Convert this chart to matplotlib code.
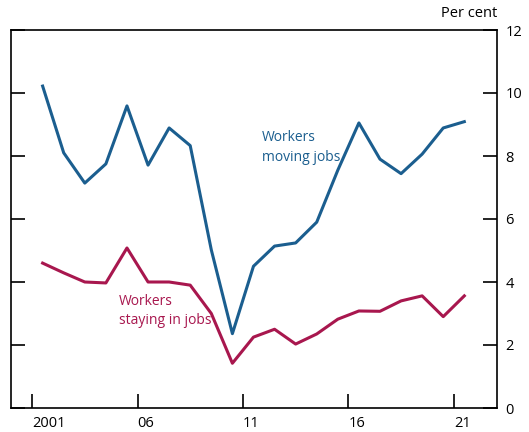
import matplotlib.pyplot as plt

# Data (annual, plotted at mid-year)
years = [2001.5 + i for i in range(21)]
moving = [10.22, 8.1, 7.14, 7.75, 9.59, 7.71, 8.89, 8.33, 5.02, 2.36, 4.5,
          5.14, 5.24, 5.9, 7.55, 9.05, 7.9, 7.44, 8.06, 8.89, 9.09]
staying = [4.6, 4.29, 4.0, 3.97, 5.08, 4.0, 4.0, 3.9, 3.0, 1.42, 2.25,
           2.5, 2.03, 2.35, 2.82, 3.08, 3.07, 3.4, 3.56, 2.9, 3.56]
xtick_pos = [2001, 2006, 2011, 2016, 2021]
xtick_labels = ['2001', '06', '11', '16', '21']
ytick_pos = [0, 2, 4, 6, 8, 10, 12]

blue = '#1b5e8f'
red = '#a8174e'

plt.rcParams['font.family'] = ['Open Sans', 'DejaVu Sans']

fig = plt.figure(figsize=(5.29, 4.32), dpi=100)
ax = fig.add_axes([11/529, 1-408/432, (497-11)/529, (408-30)/432])

ax.plot(years, moving, color=blue, linewidth=2.2)
ax.plot(years, staying, color=red, linewidth=2.2)

ax.set_xlim(2000, 2023.05)
ax.set_ylim(0, 12)
ax.set_xticks(xtick_pos)
ax.set_xticklabels(xtick_labels, fontsize=10.5, ha='left')
ax.set_yticks(ytick_pos)
ax.set_yticklabels([str(v) for v in ytick_pos], fontsize=10.5)
ax.tick_params(axis='x', direction='in', length=10, width=1.2, pad=6)
ax.tick_params(axis='y', direction='in', length=10, width=1.2, pad=6,
               left=True, right=True, labelleft=False, labelright=True)
for s in ax.spines.values():
    s.set_linewidth(1.2)

ax.text(1, 1.025, 'Per cent', transform=ax.transAxes, ha='right', va='bottom', fontsize=10.5)
ax.text(2011.9, 8.27, 'Workers\nmoving jobs', color=blue, fontsize=10,
        ha='left', va='center', linespacing=1.4)
ax.text(2005.1, 3.07, 'Workers\nstaying in jobs', color=red, fontsize=10,
        ha='left', va='center', linespacing=1.4)

fig.savefig('out.png', dpi=100)
